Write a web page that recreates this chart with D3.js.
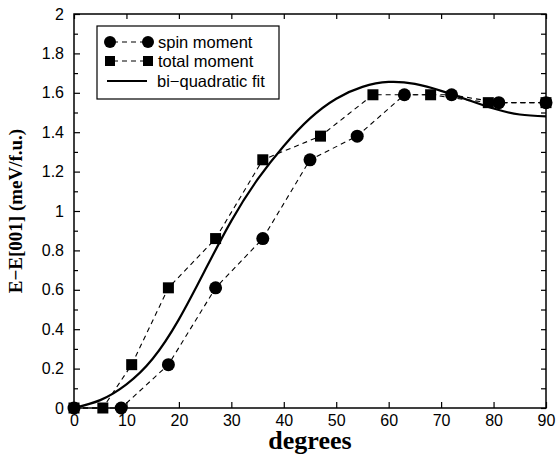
<!DOCTYPE html>
<html>
<head>
<meta charset="utf-8">
<script src="https://cdn.jsdelivr.net/npm/d3@7"></script>
<style>
  body { margin: 0; background: #fff; }
  svg { display: block; }
</style>
</head>
<body>
<div id="chart"></div>
<script>
// spin moment points (degrees, meV/f.u.)
const spinDeg = [0, 9, 18, 27, 36, 45, 54, 63, 72, 81, 90];
const spinE   = [0, 0, 0.22, 0.61, 0.86, 1.26, 1.38, 1.59, 1.59, 1.55, 1.55];

// total moment points
const totalDeg = [0, 5.5, 11, 18, 27, 36, 47, 57, 68, 79, 90];
const totalE   = [0, 0, 0.22, 0.61, 0.86, 1.26, 1.38, 1.59, 1.59, 1.55, 1.55];

// bi-quadratic fit
const fitDeg = [0, 5, 10, 15, 20, 25, 30, 35, 40, 45, 50, 55, 60, 65, 70, 75, 80, 85, 90];
const fitE   = [0, 0.04, 0.12, 0.25, 0.45, 0.70, 0.95, 1.16, 1.33, 1.47, 1.57, 1.63, 1.655, 1.645, 1.61, 1.565, 1.52, 1.49, 1.48];

const xTicks = [0, 10, 20, 30, 40, 50, 60, 70, 80, 90];
const yTicks = [0, 0.2, 0.4, 0.6, 0.8, 1, 1.2, 1.4, 1.6, 1.8, 2];
const yMinor = [0.1, 0.3, 0.5, 0.7, 0.9, 1.1, 1.3, 1.5, 1.7, 1.9];

const legendLabels = ["spin moment", "total moment", "bi\u2212quadratic fit"];

const width = 557, height = 457;
const margin = { top: 14, right: 10, bottom: 49, left: 74 };

const svg = d3.select("#chart").append("svg")
  .attr("width", width)
  .attr("height", height);

const x = d3.scaleLinear().domain([0, 90]).range([margin.left, width - margin.right - 1]);
const y = d3.scaleLinear().domain([0, 2]).range([height - margin.bottom, margin.top]);

const tickFont = "Liberation Sans, Arial, sans-serif";

// bottom axis, ticks inside
svg.append("g")
  .attr("transform", `translate(0,${y(0)})`)
  .call(d3.axisBottom(x).tickValues(xTicks).tickSize(-6).tickSizeOuter(0).tickPadding(7)
    .tickFormat(d3.format("d")))
  .call(g => g.select(".domain").remove())
  .call(g => g.selectAll("text").attr("font-size", "16px").attr("font-family", tickFont).attr("fill", "#000"));

// top axis ticks
svg.append("g")
  .attr("transform", `translate(0,${y(2)})`)
  .call(d3.axisTop(x).tickValues(xTicks).tickSize(-5).tickFormat(""))
  .call(g => g.select(".domain").remove());

// left axis
svg.append("g")
  .attr("transform", `translate(${x(0)},0)`)
  .call(d3.axisLeft(y).tickValues(yTicks).tickSize(-6).tickPadding(10)
    .tickFormat(d => d3.format("~g")(d)))
  .call(g => g.select(".domain").remove())
  .call(g => g.selectAll("text").attr("font-size", "16px").attr("font-family", tickFont).attr("fill", "#000"));

svg.append("g")
  .attr("transform", `translate(${x(0)},0)`)
  .call(d3.axisLeft(y).tickValues(yMinor).tickSize(-4).tickFormat(""))
  .call(g => g.select(".domain").remove());

// right axis ticks
svg.append("g")
  .attr("transform", `translate(${x(90)},0)`)
  .call(d3.axisRight(y).tickValues(yTicks.concat(yMinor)).tickSize(-5).tickFormat(""))
  .call(g => g.select(".domain").remove());

svg.selectAll(".tick line").attr("stroke", "#000").attr("stroke-width", 1.2);

// frame
svg.append("rect")
  .attr("x", x(0)).attr("y", y(2))
  .attr("width", x(90) - x(0)).attr("height", y(0) - y(2))
  .attr("fill", "none").attr("stroke", "#000").attr("stroke-width", 1.5);

// axis titles
svg.append("text")
  .attr("x", (x(0) + x(90)) / 2).attr("y", 449)
  .attr("text-anchor", "middle")
  .attr("font-family", "Liberation Serif, Times New Roman, serif")
  .attr("font-weight", "bold").attr("font-size", "26px")
  .text("degrees");

svg.append("text")
  .attr("transform", `translate(22,${(y(0) + y(2)) / 2}) rotate(-90)`)
  .attr("text-anchor", "middle")
  .attr("font-family", "Liberation Serif, Times New Roman, serif")
  .attr("font-weight", "bold").attr("font-size", "19px")
  .text("E\u2212E[001] (meV/f.u.)");

// series
const spin = spinDeg.map((d, i) => ({ d: d, e: spinE[i] }));
const total = totalDeg.map((d, i) => ({ d: d, e: totalE[i] }));
const fit = fitDeg.map((d, i) => ({ d: d, e: fitE[i] }));

const dashed = d3.line().x(p => x(p.d)).y(p => y(p.e));
const smooth = d3.line().x(p => x(p.d)).y(p => y(p.e)).curve(d3.curveNatural);

svg.append("path").datum(fit)
  .attr("d", smooth).attr("fill", "none").attr("stroke", "#000").attr("stroke-width", 2.2);

[spin, total].forEach(s => {
  svg.append("path").datum(s)
    .attr("d", dashed).attr("fill", "none").attr("stroke", "#000")
    .attr("stroke-width", 1.1).attr("stroke-dasharray", "5,4");
});

svg.append("g").selectAll("circle")
  .data(spin).join("circle")
  .attr("cx", p => x(p.d)).attr("cy", p => y(p.e)).attr("r", 6.5).attr("fill", "#000");

svg.append("g").selectAll("rect")
  .data(total).join("rect")
  .attr("x", p => x(p.d) - 5.5).attr("y", p => y(p.e) - 5.5)
  .attr("width", 11).attr("height", 11).attr("fill", "#000");

// legend
const lg = svg.append("g").attr("transform", "translate(97,26)");
lg.append("rect").attr("width", 182).attr("height", 73)
  .attr("fill", "#fff").attr("stroke", "#000").attr("stroke-width", 1.2);

const rows = [16, 35, 55];
legendLabels.forEach((t, i) => {
  const ry = rows[i];
  if (i < 2) {
    lg.append("line").attr("x1", 13).attr("x2", 51).attr("y1", ry).attr("y2", ry)
      .attr("stroke", "#000").attr("stroke-width", 1.1).attr("stroke-dasharray", "5,4")
      .attr("stroke-dashoffset", -3);
    [13, 51].forEach(cx => {
      if (i === 0) lg.append("circle").attr("cx", cx).attr("cy", ry).attr("r", 6).attr("fill", "#000");
      else lg.append("rect").attr("x", cx - 5).attr("y", ry - 5).attr("width", 10).attr("height", 10).attr("fill", "#000");
    });
  } else {
    lg.append("line").attr("x1", 10).attr("x2", 50).attr("y1", ry).attr("y2", ry)
      .attr("stroke", "#000").attr("stroke-width", 2.2);
  }
  lg.append("text").attr("x", i < 2 ? 61 : 60).attr("y", ry + 5.5)
    .attr("font-family", tickFont).attr("font-size", "16.5px")
    .text(t);
});
</script>
</body>
</html>
